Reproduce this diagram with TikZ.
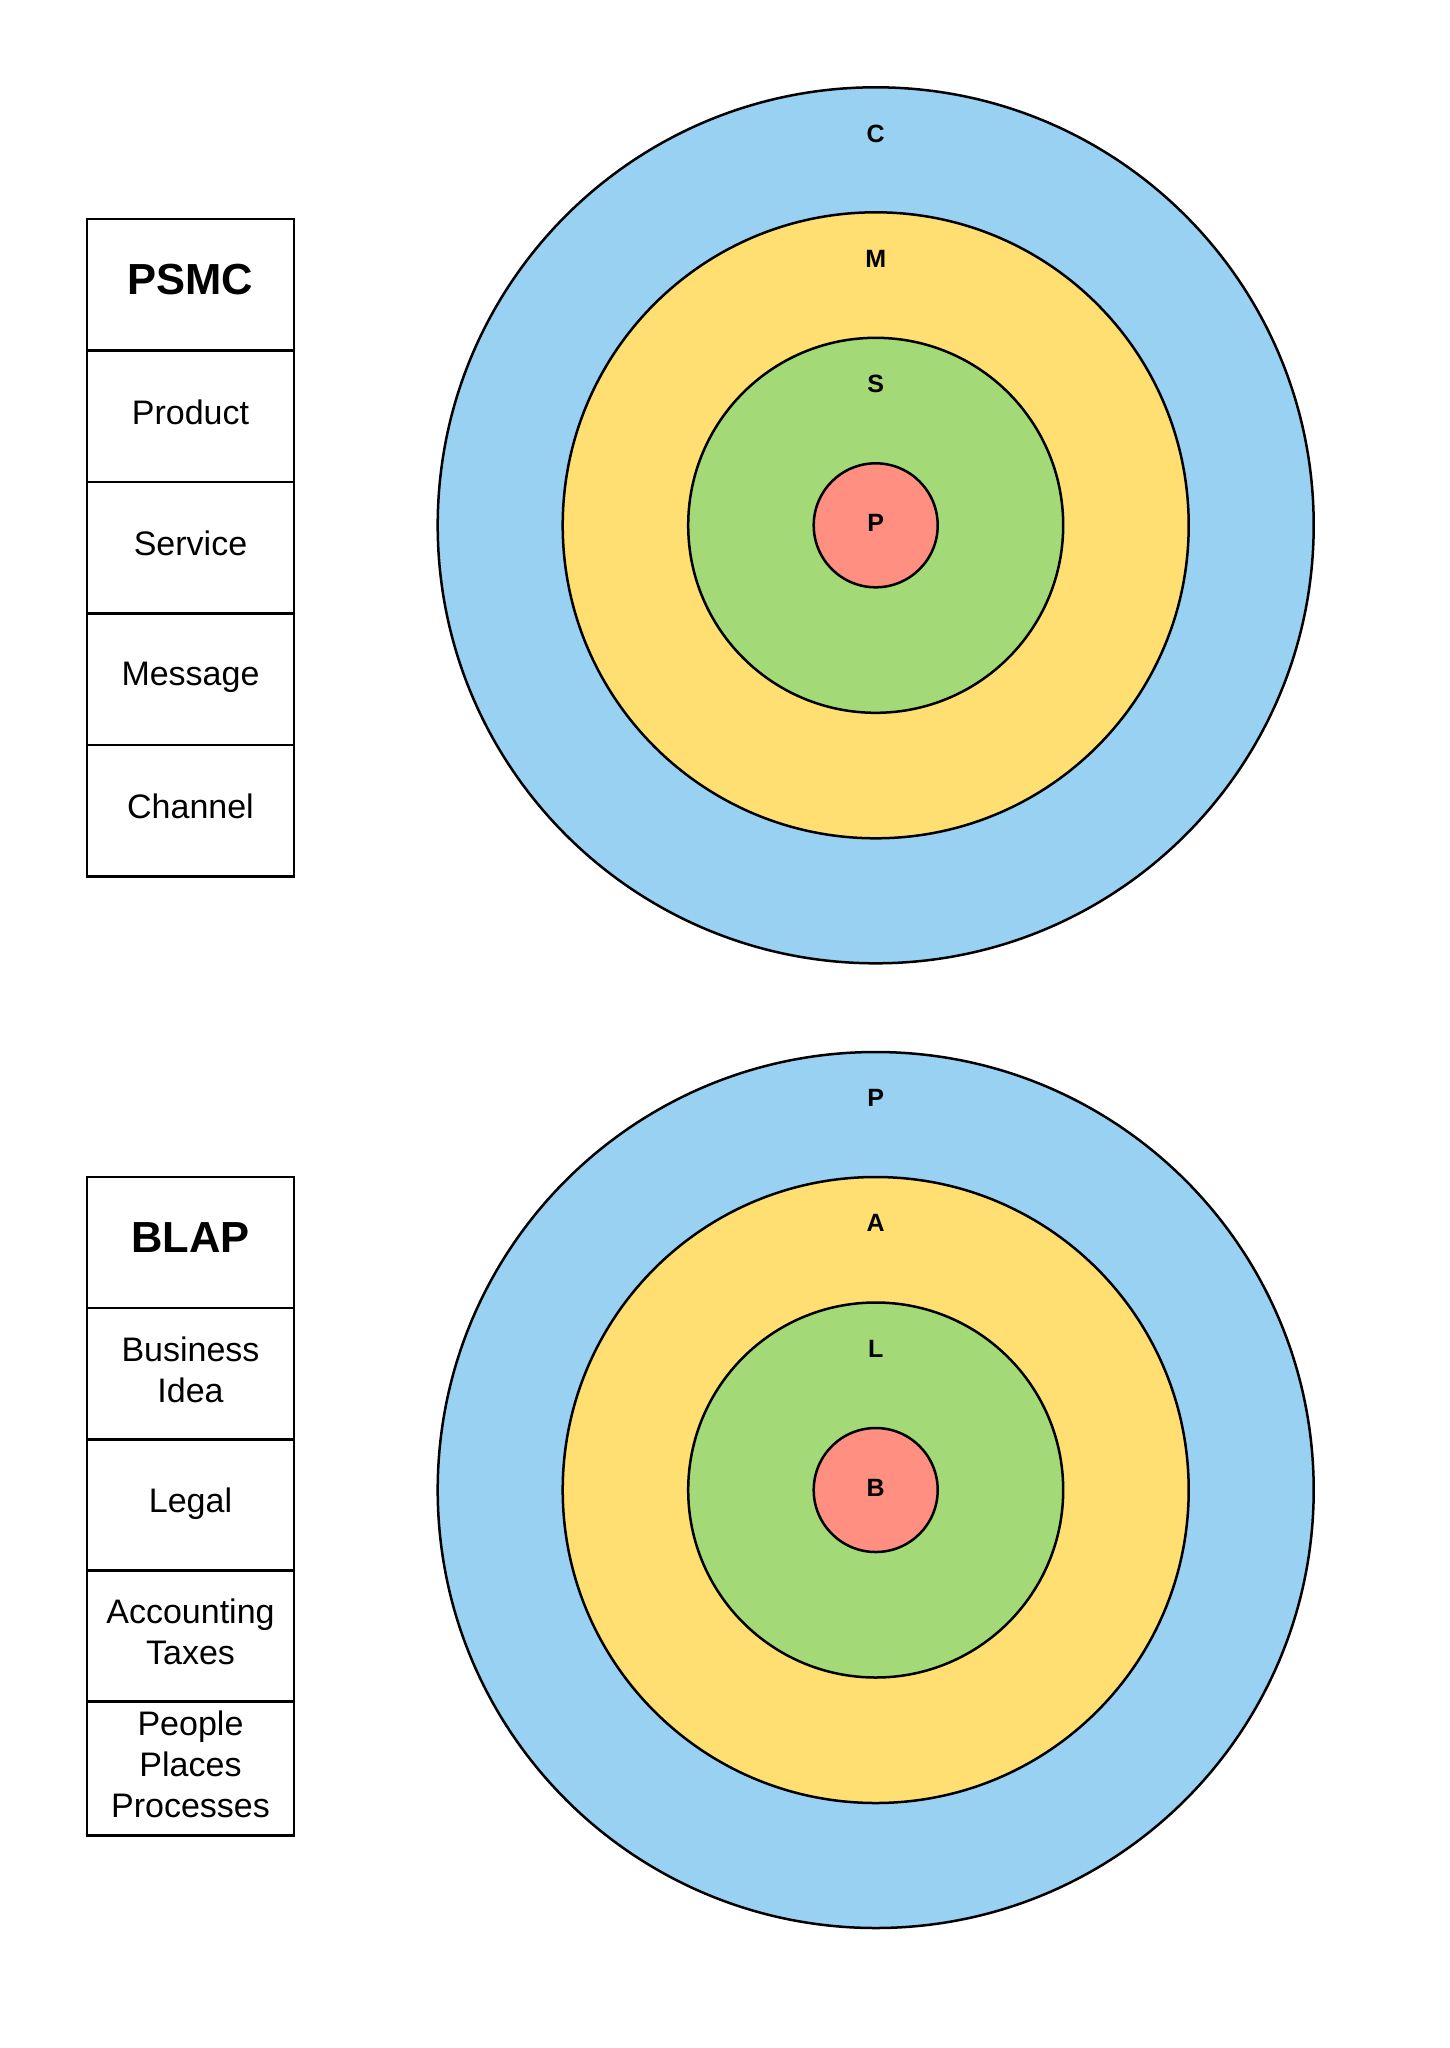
\documentclass[tikz,border=0pt]{standalone}
\usepackage{fontspec}
\setmainfont{Liberation Sans}
\definecolor{cblue}{RGB}{153,209,242}
\definecolor{cyellow}{RGB}{255,223,113}
\definecolor{cgreen}{RGB}{163,217,119}
\definecolor{cred}{RGB}{255,143,128}
\tikzset{
  ring/.style={circle, draw=black, line width=2.5pt, inner sep=0pt},
  ringlabel/.style={font=\fontsize{25}{30}\selectfont\bfseries, inner sep=0pt},
  cell/.style={rectangle, draw=black, line width=2.5pt, minimum width=207pt, inner sep=0pt},
  celltext/.style={align=center, inner sep=0pt, font=\fontsize{34}{40.8}\selectfont},
  titletext/.style={inner sep=0pt, font=\fontsize{43.5}{52}\selectfont\bfseries}
}
\begin{document}
\begin{tikzpicture}[x=1pt,y=-1pt]
\useasboundingbox (0,0) rectangle (1449,2048);
% top target
\node[ring, fill=cblue, minimum size=876pt] (c1) at (875.7,525.3) {};
\node[ring, fill=cyellow, minimum size=626pt] (m1) at (875.7,525.3) {};
\node[ring, fill=cgreen, minimum size=375pt] (s1) at (875.7,525.3) {};
\node[ring, fill=cred, minimum size=124pt] (p1) at (875.7,525.3) {};
\node[ringlabel] (lc1) at (875.7,133.5) {C};
\node[ringlabel] (lm1) at (875.7,258.5) {M};
\node[ringlabel] (ls1) at (875.7,384) {S};
\node[ringlabel] (lp1) at (875.7,523) {P};
% bottom target
\node[ring, fill=cblue, minimum size=876pt] (c2) at (875.7,1490) {};
\node[ring, fill=cyellow, minimum size=626pt] (m2) at (875.7,1490) {};
\node[ring, fill=cgreen, minimum size=375pt] (s2) at (875.7,1490) {};
\node[ring, fill=cred, minimum size=124pt] (p2) at (875.7,1490) {};
\node[ringlabel] (lc2) at (875.7,1098) {P};
\node[ringlabel] (lm2) at (875.7,1223) {A};
\node[ringlabel] (ls2) at (875.7,1349) {L};
\node[ringlabel] (lp2) at (875.7,1488) {B};
% top table
\node[cell, minimum height=131.5pt] (t0) at (190.5,284.5) {};
\node[cell, minimum height=131.5pt] (t1) at (190.5,416) {};
\node[cell, minimum height=131.5pt] (t2) at (190.5,547.5) {};
\node[cell, minimum height=131.5pt] (t3) at (190.5,679) {};
\node[cell, minimum height=131.5pt] (t4) at (190.5,810.5) {};
\node[titletext] (t0t) at ([yshift=5pt]t0.center) {PSMC};
\node[celltext] (t1t) at ([yshift=4pt]t1.center) {Product};
\node[celltext] (t2t) at ([yshift=4pt]t2.center) {Service};
\node[celltext] (t3t) at ([yshift=1.5pt]t3.center) {Message};
\node[celltext] (t4t) at ([yshift=4pt]t4.center) {Channel};
% bottom table
\node[cell, minimum height=131pt] (b0) at (190.5,1242.5) {};
\node[cell, minimum height=131pt] (b1) at (190.5,1373.5) {};
\node[cell, minimum height=131pt] (b2) at (190.5,1505) {};
\node[cell, minimum height=131pt] (b3) at (190.5,1636) {};
\node[cell, minimum height=134pt] (b4) at (190.5,1768.5) {};
\node[titletext] (b0t) at ([yshift=5pt]b0.center) {BLAP};
\node[celltext] (b1t) at ([yshift=4pt]b1.center) {Business\\Idea};
\node[celltext] (b2t) at ([yshift=1.5pt]b2.center) {Legal};
\node[celltext] (b3t) at ([yshift=4pt]b3.center) {Accounting\\Taxes};
\node[celltext] (b4t) at ([yshift=4pt]b4.center) {People\\Places\\Processes};
\end{tikzpicture}
\end{document}
